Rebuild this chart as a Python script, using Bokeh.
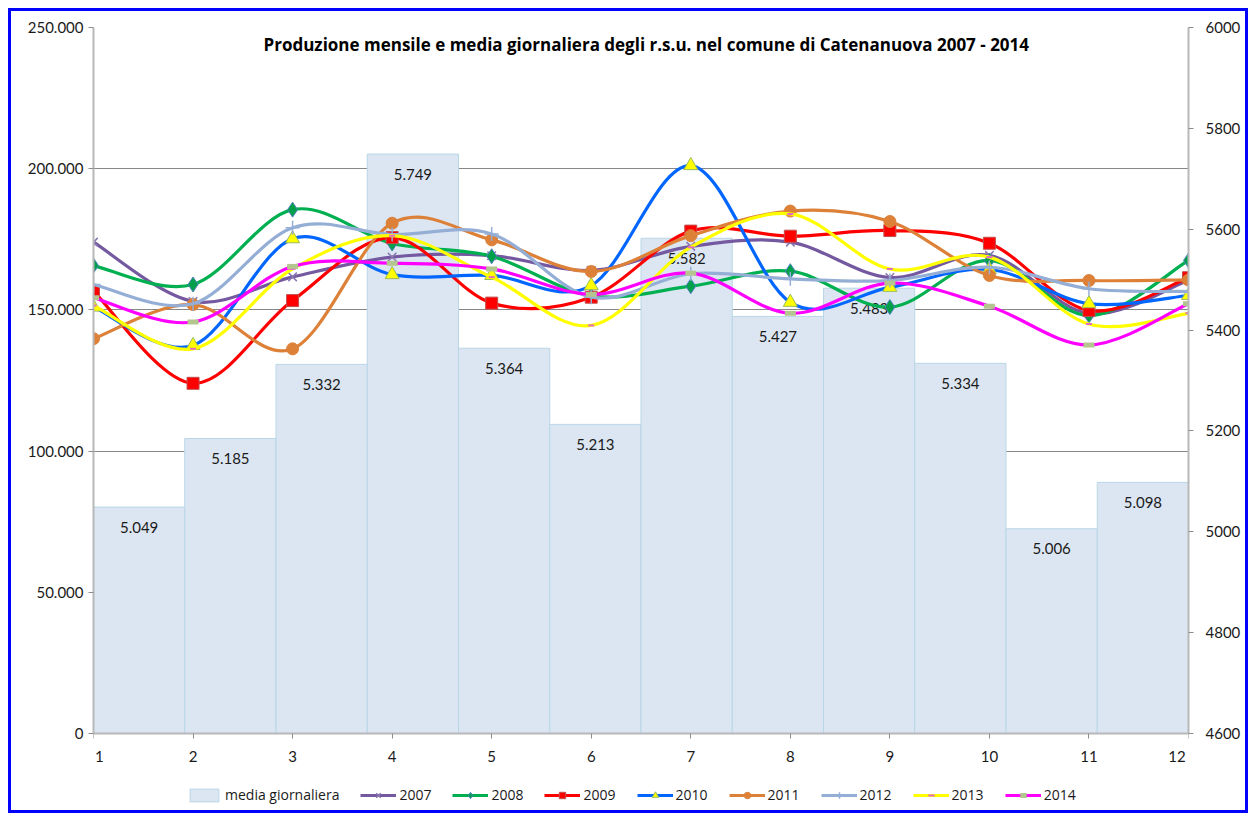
import numpy as np
from bokeh.plotting import figure
from bokeh.models import (Range1d, LinearAxis, FixedTicker, ColumnDataSource,
                          Legend, LegendItem, Label)
from bokeh.core.properties import value
from bokeh.embed import file_html
from bokeh.resources import INLINE

FONT = "Lato"

# ---------------- data ----------------
months = [1, 2, 3, 4, 5, 6, 7, 8, 9, 10, 11, 12]
month_labels = ["1", "2", "3", "4", "5", "6", "7", "8", "9", "10", "11", "12"]
media_giornaliera = [5049, 5185, 5332, 5749, 5364, 5213, 5582, 5427, 5483, 5334, 5006, 5098]

s2007 = [174000, 153000, 161700, 168700, 169200, 164000, 172500, 174000, 161500, 169300, 148700, 160500]
s2008 = [165700, 159000, 185500, 173500, 169000, 155000, 158400, 163700, 151000, 167500, 148000, 167500]
s2009 = [156600, 124000, 153300, 175600, 152400, 154500, 177900, 176100, 178100, 173600, 149800, 161400]
s2010 = [151000, 137400, 175200, 162500, 162200, 158600, 201100, 152700, 158000, 164300, 152200, 155100]
s2011 = [139800, 151900, 136200, 180700, 174800, 163600, 176300, 185000, 181300, 162200, 160400, 160600]
s2012 = [159000, 152200, 179100, 176700, 176900, 154500, 162800, 161000, 160400, 165100, 157500, 156500]
s2013 = [151600, 136200, 164500, 176300, 161600, 144500, 172200, 184000, 164500, 168700, 145000, 148800]
s2014 = [154300, 145700, 165400, 166500, 164500, 155500, 163000, 148800, 159500, 151300, 137600, 152200]

years = ["2007", "2008", "2009", "2010", "2011", "2012", "2013", "2014"]
series = [s2007, s2008, s2009, s2010, s2011, s2012, s2013, s2014]

left_ticks = [0, 50000, 100000, 150000, 200000, 250000]
left_labels = ["0", "50.000", "100.000", "150.000", "200.000", "250.000"]
right_ticks = [4600, 4800, 5000, 5200, 5400, 5600, 5800, 6000]
right_labels = ["4600", "4800", "5000", "5200", "5400", "5600", "5800", "6000"]
bar_labels = [f"{v/1000:.3f}" for v in media_giornaliera]

title_text = "Produzione mensile  e media giornaliera degli r.s.u. nel comune di Catenanuova 2007 - 2014"

# ---------------- styles ----------------
styles = {
    "2007": dict(color="#7459A0", marker="x", mfill="#7459A0", mline="#8A76B0", msize=12, mlw=1.5),
    "2008": dict(color="#00B050", marker="diamond", mfill="#00A04A", mline="#4F81BD", msize=15, mlw=1),
    "2009": dict(color="#FF0000", marker="square", mfill="#FF0000", mline="#C0504D", msize=12, mlw=1),
    "2010": dict(color="#0066FF", marker="triangle", mfill="#FFFF00", mline="#9BBB59", msize=14, mlw=1),
    "2011": dict(color="#DD8038", marker="circle", mfill="#DD8038", mline="#DD8038", msize=12, mlw=1),
    "2012": dict(color="#95AED6", marker="cross", mfill="#95AED6", mline="#95AED6", msize=14, mlw=1.5),
    "2013": dict(color="#FFFF00", marker="dash", mfill="#E46CC0", mline="#E46CC0", msize=6, mlw=2),
    "2014": dict(color="#FF00FF", marker="dash", mfill="#B5C58F", mline="#B5C58F", msize=11, mlw=5),
}


def smooth_segments(xs, ys):
    x = np.asarray(xs, float)
    y = np.asarray(ys, float)
    xp = np.concatenate([[x[0]], x, [x[-1]]])
    yp = np.concatenate([[y[0]], y, [y[-1]]])
    n = len(x)
    return dict(
        x0=xp[1:n], y0=yp[1:n], x1=xp[2:n + 1], y1=yp[2:n + 1],
        cx0=xp[1:n] + (xp[2:n + 1] - xp[0:n - 1]) / 6.0,
        cy0=yp[1:n] + (yp[2:n + 1] - yp[0:n - 1]) / 6.0,
        cx1=xp[2:n + 1] - (xp[3:n + 2] - xp[1:n]) / 6.0,
        cy1=yp[2:n + 1] - (yp[3:n + 2] - yp[1:n]) / 6.0,
    )


# ---------------- geometry ----------------
FRAME_W = 1095          # plot area width
PLOT_H = 706            # height of the value area (0 .. 250.000)
FRAME_H = 783           # frame extends below the value area to hold the legend
LEFT_MAX, RIGHT_MIN, RIGHT_MAX = 250000, 4600, 6000
extra = (FRAME_H - PLOT_H) / PLOT_H
y_lo = -LEFT_MAX * extra
r_lo = RIGHT_MIN - (RIGHT_MAX - RIGHT_MIN) * extra

p = figure(frame_width=FRAME_W, frame_height=FRAME_H, output_backend="svg", toolbar_location=None,
           x_range=Range1d(1, 12), y_range=Range1d(y_lo, LEFT_MAX),
           min_border_left=82, min_border_right=57, min_border_top=16, min_border_bottom=0,
           background_fill_color="white", border_fill_color="white")
p.styles = {"border": "3px solid #0000FF", "margin-left": "8px", "margin-top": "8px"}
p.outline_line_color = None

p.extra_x_ranges = {"bars": Range1d(0, 12)}
p.extra_y_ranges = {"right": Range1d(r_lo, RIGHT_MAX)}

# axes (the x axis sits at value 0, inside the frame; edge labels nudged so they are not clipped)
NB = "\u00a0"
x_overrides = dict(zip(months, month_labels))
x_overrides[months[0]] = NB * 3 + month_labels[0]
x_overrides[months[-1]] = month_labels[-1] + NB * 6
p.xaxis.ticker = FixedTicker(ticks=months)
p.xaxis.major_label_overrides = x_overrides
p.xaxis.fixed_location = 0
p.yaxis.ticker = FixedTicker(ticks=left_ticks)
p.yaxis.major_label_overrides = dict(zip(left_ticks, left_labels))
p.yaxis.bounds = (0, LEFT_MAX)

raxis = LinearAxis(y_range_name="right", ticker=FixedTicker(ticks=right_ticks),
                   bounds=(RIGHT_MIN, RIGHT_MAX))
raxis.major_label_overrides = dict(zip(right_ticks, right_labels))
p.add_layout(raxis, "right")

for ax in [p.xaxis[0], p.yaxis[0], raxis]:
    ax.axis_line_color = "#B8B8B8"
    ax.axis_line_width = 2
    ax.major_tick_line_color = "#8C8C8C"
    ax.major_tick_in = 0
    ax.major_tick_out = 5
    ax.minor_tick_line_color = None
    ax.major_label_text_font = FONT
    ax.major_label_text_font_size = "15px"
    ax.major_label_text_color = "#1A1A1A"
    ax.major_label_standoff = 5
p.xaxis.major_label_standoff = 8
raxis.major_label_standoff = 12

p.xgrid.grid_line_color = None
p.ygrid.ticker = FixedTicker(ticks=left_ticks)
p.ygrid.grid_line_color = "#878787"
p.ygrid.grid_line_width = 1

# bars
bar_src = ColumnDataSource(dict(x=[i + 0.5 for i in range(len(months))],
                                top=media_giornaliera, lab=bar_labels))
bars_r = p.vbar(x="x", top="top", bottom=RIGHT_MIN, width=1.0, source=bar_src,
                x_range_name="bars", y_range_name="right",
                fill_color="#DCE6F2", line_color="#B9D6E6", line_width=1)
p.text(x="x", y="top", text="lab", source=bar_src, x_range_name="bars", y_range_name="right",
       text_align="center", text_baseline="middle", y_offset=20,
       text_font=value(FONT), text_font_size="15px", text_color="#1A1A1A")

# lines
items = [LegendItem(label="media giornaliera", renderers=[bars_r])]
for yr, vals in zip(years, series):
    st = styles[yr]
    seg = smooth_segments(months, vals)
    cr = p.bezier(source=ColumnDataSource(seg), x0="x0", y0="y0", x1="x1", y1="y1",
                  cx0="cx0", cy0="cy0", cx1="cx1", cy1="cy1",
                  line_color=st["color"], line_width=3.2)
    mr = p.scatter(x=months, y=vals, marker=st["marker"], size=st["msize"],
                   fill_color=st["mfill"], line_color=st["mline"], line_width=st["mlw"])
    items.append(LegendItem(label=yr, renderers=[cr, mr]))

# title inside plot area
p.add_layout(Label(x=6.575, y=244000, text=title_text, text_align="center",
                   text_baseline="middle", text_font="Open Sans", text_font_size="17px",
                   text_font_style="bold", text_color="#000000"))

legend = Legend(items=items, orientation="horizontal", location=(93, 6),
                label_text_font="Open Sans", label_text_font_size="14px", label_text_color="#1A1A1A",
                glyph_width=36, glyph_height=16, label_standoff=3, spacing=21,
                padding=2, margin=0, border_line_color=None, background_fill_alpha=0)
p.add_layout(legend)

open("out.html", "w").write(file_html(p, INLINE))
